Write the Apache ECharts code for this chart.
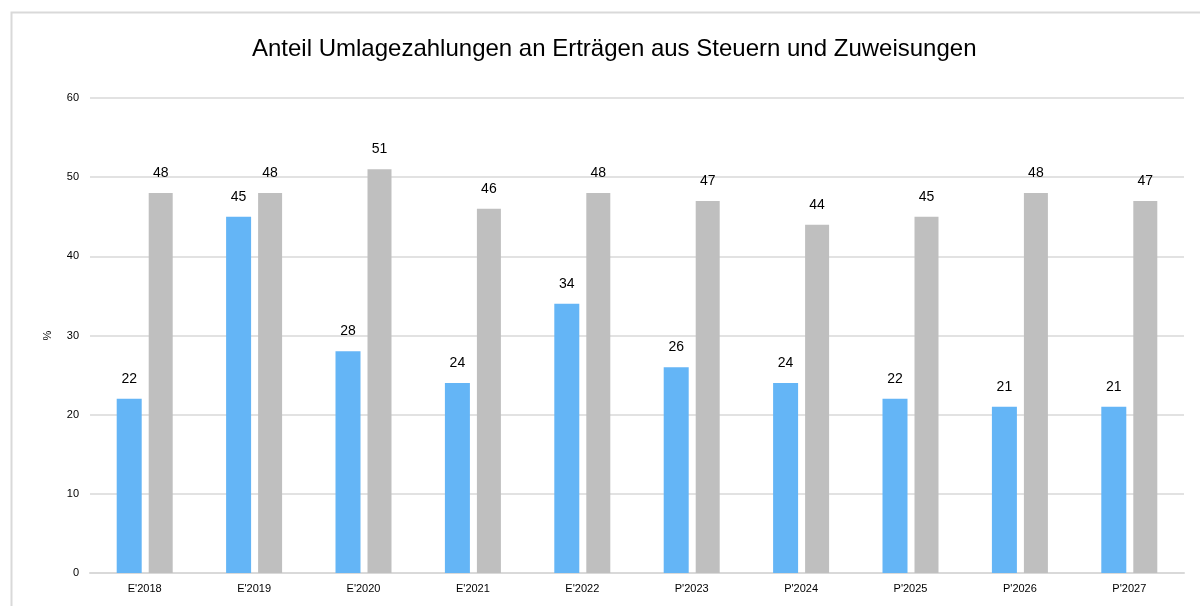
<!DOCTYPE html>
<html lang="de">
<head>
    <meta charset="UTF-8">
    <title>Anteil Umlagezahlungen</title>
    <script src="https://cdn.jsdelivr.net/npm/echarts@6/dist/echarts.min.js"></script>
    <style>
        body { margin: 0; background: #fff; }
    </style>
</head>
<body>
    <div id="chart" style="width: 1200px; height: 606px;"></div>

    <script>
        // Daten
        var jahre = ["E'2018", "E'2019", "E'2020", "E'2021", "E'2022", "P'2023", "P'2024", "P'2025", "P'2026", "P'2027"]
        var umlage = [22, 45, 28, 24, 34, 26, 24, 22, 21, 21]
        var ertraege = [48, 48, 51, 46, 48, 47, 44, 45, 48, 47]
        var yTicks = [0, 10, 20, 30, 40, 50, 60]

        var font = "'Liberation Sans', Arial, sans-serif"
        var chart = echarts.init(document.getElementById("chart"))

        var labelStyle = {
            show: true,
            position: "top",
            distance: 13,
            color: "#000",
            fontSize: 14,
            fontFamily: font
        }

        var options = {
            animation: false,
            graphic: [{
                type: "rect",
                left: 9,
                top: 10,
                shape: { width: 1300, height: 800 },
                style: { fill: "none", stroke: "#d9d9d9", lineWidth: 2 },
                silent: true
            }],
            title: {
                text: "Anteil Umlagezahlungen an Erträgen aus Steuern und Zuweisungen",
                left: 247,
                top: 32,
                textStyle: {
                    color: "#000",
                    fontSize: 24,
                    fontWeight: "normal",
                    fontFamily: font
                }
            },
            grid: {
                left: 90,
                right: 16,
                top: 98,
                bottom: 33,
                containLabel: false
            },
            xAxis: {
                type: "category",
                data: jahre,
                axisTick: { show: false },
                axisLine: { lineStyle: { color: "#d9d9d9", width: 2 } },
                axisLabel: { color: "#000", fontSize: 11, fontFamily: font, margin: 10 }
            },
            yAxis: {
                type: "value",
                min: yTicks[0],
                max: yTicks[yTicks.length - 1],
                interval: 10,
                name: "%",
                nameLocation: "middle",
                nameGap: 37,
                nameRotate: 90,
                nameTextStyle: { color: "#000", fontSize: 11, fontFamily: font },
                axisLine: { show: false },
                axisTick: { show: false },
                axisLabel: { color: "#000", fontSize: 11, fontFamily: font, margin: 11 },
                splitLine: { lineStyle: { color: "#d9d9d9", width: 1.5 } }
            },
            series: [
                {
                    name: "Umlage",
                    type: "bar",
                    data: umlage,
                    barWidth: 25,
                    barGap: "28%",
                    itemStyle: { color: "#64b5f6" },
                    label: labelStyle
                },
                {
                    name: "Erträge",
                    type: "bar",
                    data: ertraege,
                    barWidth: 24,
                    itemStyle: { color: "#bfbfbf" },
                    label: labelStyle
                }
            ]
        }

        chart.setOption(options)
    </script>
</body>
</html>
